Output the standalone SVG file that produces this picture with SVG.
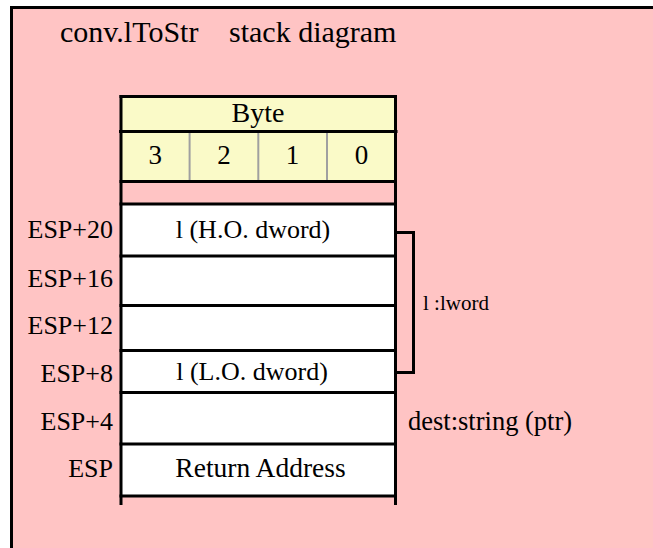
<svg xmlns="http://www.w3.org/2000/svg" width="653" height="548" viewBox="0 0 653 548">
<style>
text{font-family:"Liberation Serif","Times New Roman",serif;font-size:26px;fill:#000}
.c{text-anchor:middle}
.r{text-anchor:end}
.white{fill:#fff}
.yel{fill:#FAFAC8}
.ln{stroke:#000;stroke-width:3;fill:none}
.div{stroke:#A0A0A0;stroke-width:2}
.t{font-size:30px}
</style>
<rect x="11.5" y="7.5" width="670" height="570" fill="#FFC4C4" stroke="#000" stroke-width="3"/>
<g id="title">
<text x="60" y="42" class="t">conv.lToStr</text>
<text x="229" y="42" class="t">stack diagram</text>
</g>
<g id="byte-header">
<rect x="121" y="96.5" width="274.5" height="35" class="yel"/>
<text x="258" y="122" class="c" style="font-size:28px">Byte</text>
</g>
<g id="byte-numbers">
<rect x="121" y="131.5" width="274.5" height="50" class="yel"/>
<line x1="189.6" y1="131.5" x2="189.6" y2="181.5" class="div"/>
<line x1="258.3" y1="131.5" x2="258.3" y2="181.5" class="div"/>
<line x1="327" y1="131.5" x2="327" y2="181.5" class="div"/>
<text x="155.2" y="164" class="c" style="font-size:27px">3</text>
<text x="224" y="164" class="c" style="font-size:27px">2</text>
<text x="292.6" y="164" class="c" style="font-size:27px">1</text>
<text x="361.4" y="164" class="c" style="font-size:27px">0</text>
</g>
<g id="row-esp20">
<rect x="121" y="204" width="274.5" height="52" class="white"/>
<text x="113" y="238" class="r">ESP+20</text>
<text x="253" y="238" class="c">l (H.O. dword)</text>
</g>
<g id="row-esp16">
<rect x="121" y="256" width="274.5" height="49.5" class="white"/>
<text x="113" y="287" class="r">ESP+16</text>
</g>
<g id="row-esp12">
<rect x="121" y="305.5" width="274.5" height="45" class="white"/>
<text x="113" y="334" class="r">ESP+12</text>
</g>
<g id="row-esp8">
<rect x="121" y="350.5" width="274.5" height="42" class="white"/>
<text x="113" y="382" class="r">ESP+8</text>
<text x="252" y="380" class="c">l (L.O. dword)</text>
</g>
<g id="row-esp4">
<rect x="121" y="392.5" width="274.5" height="51.5" class="white"/>
<text x="113" y="430" class="r">ESP+4</text>
</g>
<g id="row-esp">
<rect x="121" y="444" width="274.5" height="52" class="white"/>
<text x="113" y="477" class="r">ESP</text>
<text x="260.5" y="477" class="c" style="font-size:27.5px">Return Address</text>
</g>
<g id="grid">
<line x1="121" y1="95" x2="121" y2="505" class="ln"/>
<line x1="395.5" y1="95" x2="395.5" y2="505" class="ln"/>
<line x1="119.5" y1="96.5" x2="397" y2="96.5" class="ln"/>
<line x1="119" y1="131.5" x2="397.5" y2="131.5" class="ln"/>
<line x1="119.5" y1="181.5" x2="397" y2="181.5" class="ln"/>
<line x1="119.5" y1="204" x2="397" y2="204" class="ln"/>
<line x1="119.5" y1="256" x2="397" y2="256" class="ln"/>
<line x1="119.5" y1="305.5" x2="397" y2="305.5" class="ln"/>
<line x1="119.5" y1="350.5" x2="397" y2="350.5" class="ln"/>
<line x1="119.5" y1="392.5" x2="397" y2="392.5" class="ln"/>
<line x1="119.5" y1="444" x2="397" y2="444" class="ln"/>
<line x1="119.5" y1="496" x2="397" y2="496" class="ln"/>
</g>
<g id="connectors">
<path d="M396 232.5 H413.5 V372.5 H396" class="ln"/>
</g>
<g id="labels">
<text x="423" y="310" style="font-size:21px">l :lword</text>
<text x="408" y="430" style="font-size:26.5px">dest:string (ptr)</text>
</g>
</svg>
